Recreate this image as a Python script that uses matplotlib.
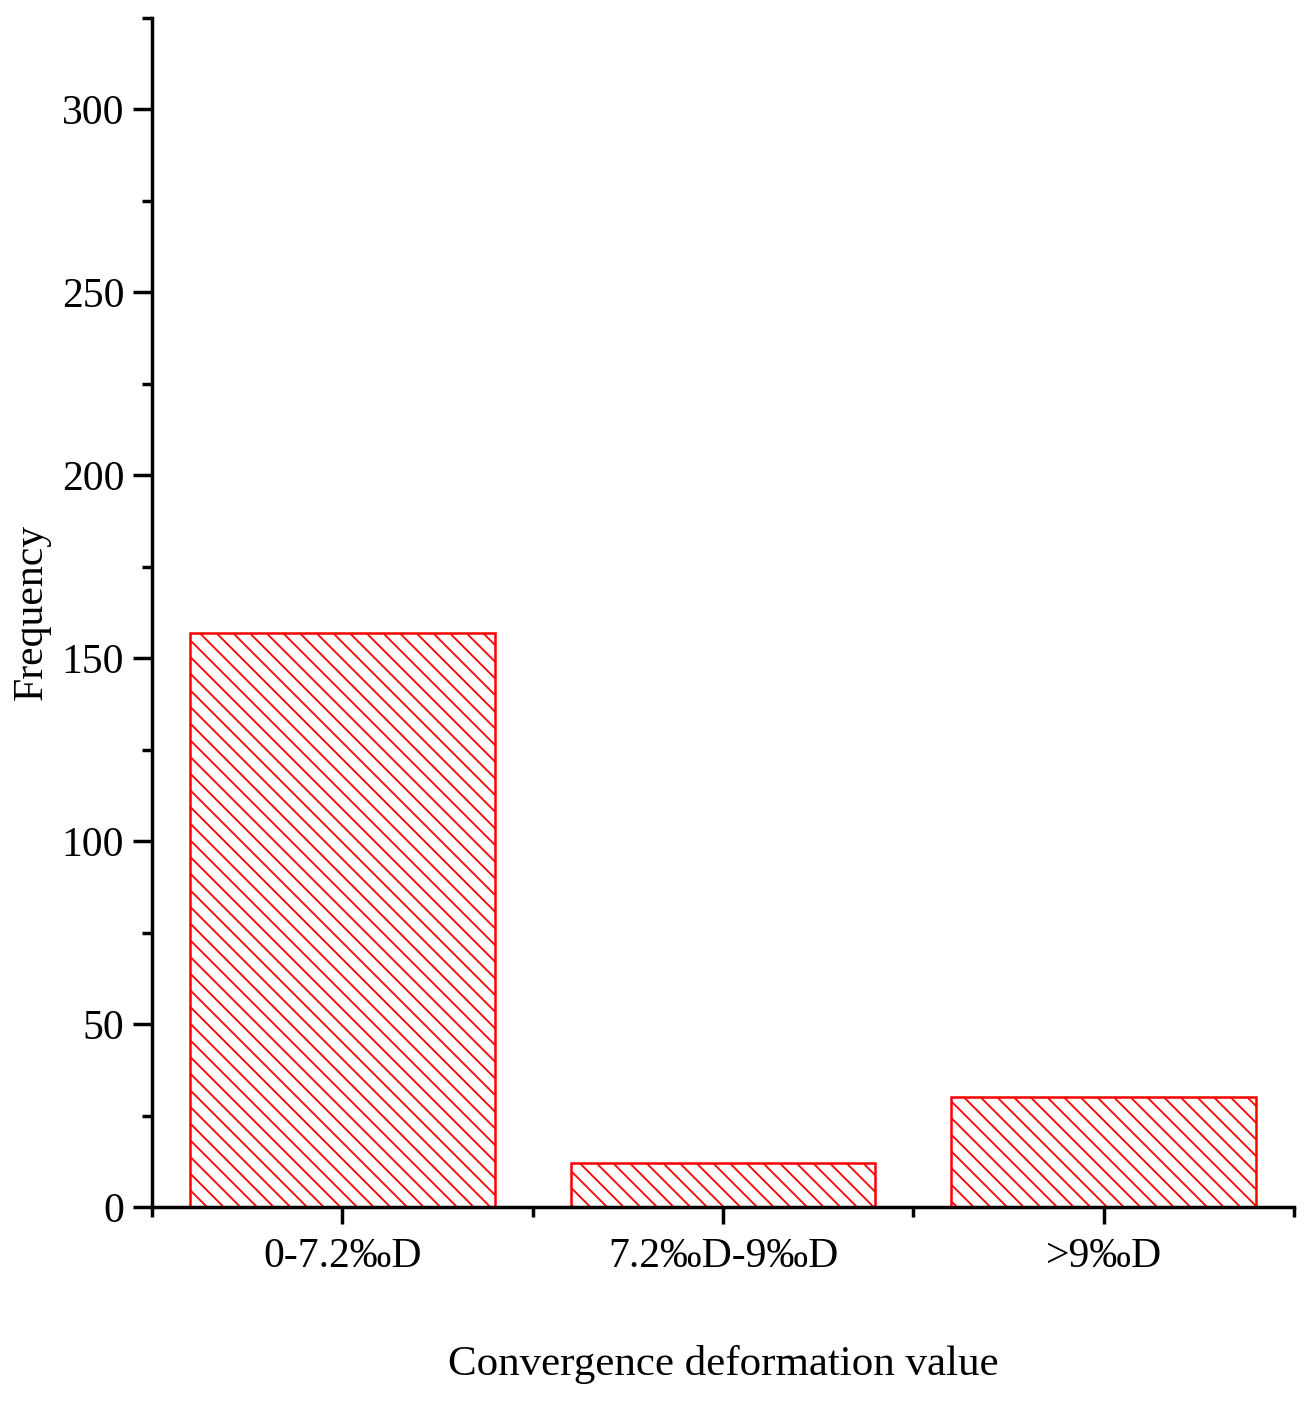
import matplotlib.pyplot as plt
import numpy as np

categories = ['0-7.2‰D', '7.2‰D-9‰D', '>9‰D']
counts = [157, 12, 30]

plt.rcParams['font.family'] = ['Liberation Serif', 'DejaVu Serif']
plt.rcParams['hatch.linewidth'] = 1.3
plt.rcParams['hatch.color'] = 'red'

fig = plt.figure(figsize=(13.12, 14.02), dpi=100)
ax = fig.add_axes([0.1159, 0.1391, 0.8704, 0.8481])

x = np.arange(len(categories))
ax.bar(x, counts, width=0.8, color='white', edgecolor='red', linewidth=1.8, hatch='\\\\')

ax.set_xlim(-0.5, 2.5)
ax.set_ylim(0, 325)

# spines
ax.spines['top'].set_visible(False)
ax.spines['right'].set_visible(False)
ax.spines['left'].set_linewidth(2.5)
ax.spines['bottom'].set_linewidth(2.5)

ax.set_xticks(x)
ax.set_xticklabels(categories)
ax.set_xticks([-0.5, 0.5, 1.5, 2.5], minor=True)
ax.set_yticks(np.arange(0, 301, 50))
ax.set_yticks(np.arange(25, 326, 50), minor=True)

ax.tick_params(axis='both', which='major', width=2.5, labelsize=30)
ax.tick_params(axis='y', which='major', length=14, pad=6)
ax.tick_params(axis='y', which='minor', length=7, width=2.5)
ax.tick_params(axis='x', which='major', length=12, pad=10)
ax.tick_params(axis='x', which='minor', length=7, width=2.5)

ax.set_xlabel('Convergence deformation value', fontsize=31, labelpad=50)
ax.set_ylabel('Frequency', fontsize=30, labelpad=8)

fig.savefig('out.png', dpi=100)
